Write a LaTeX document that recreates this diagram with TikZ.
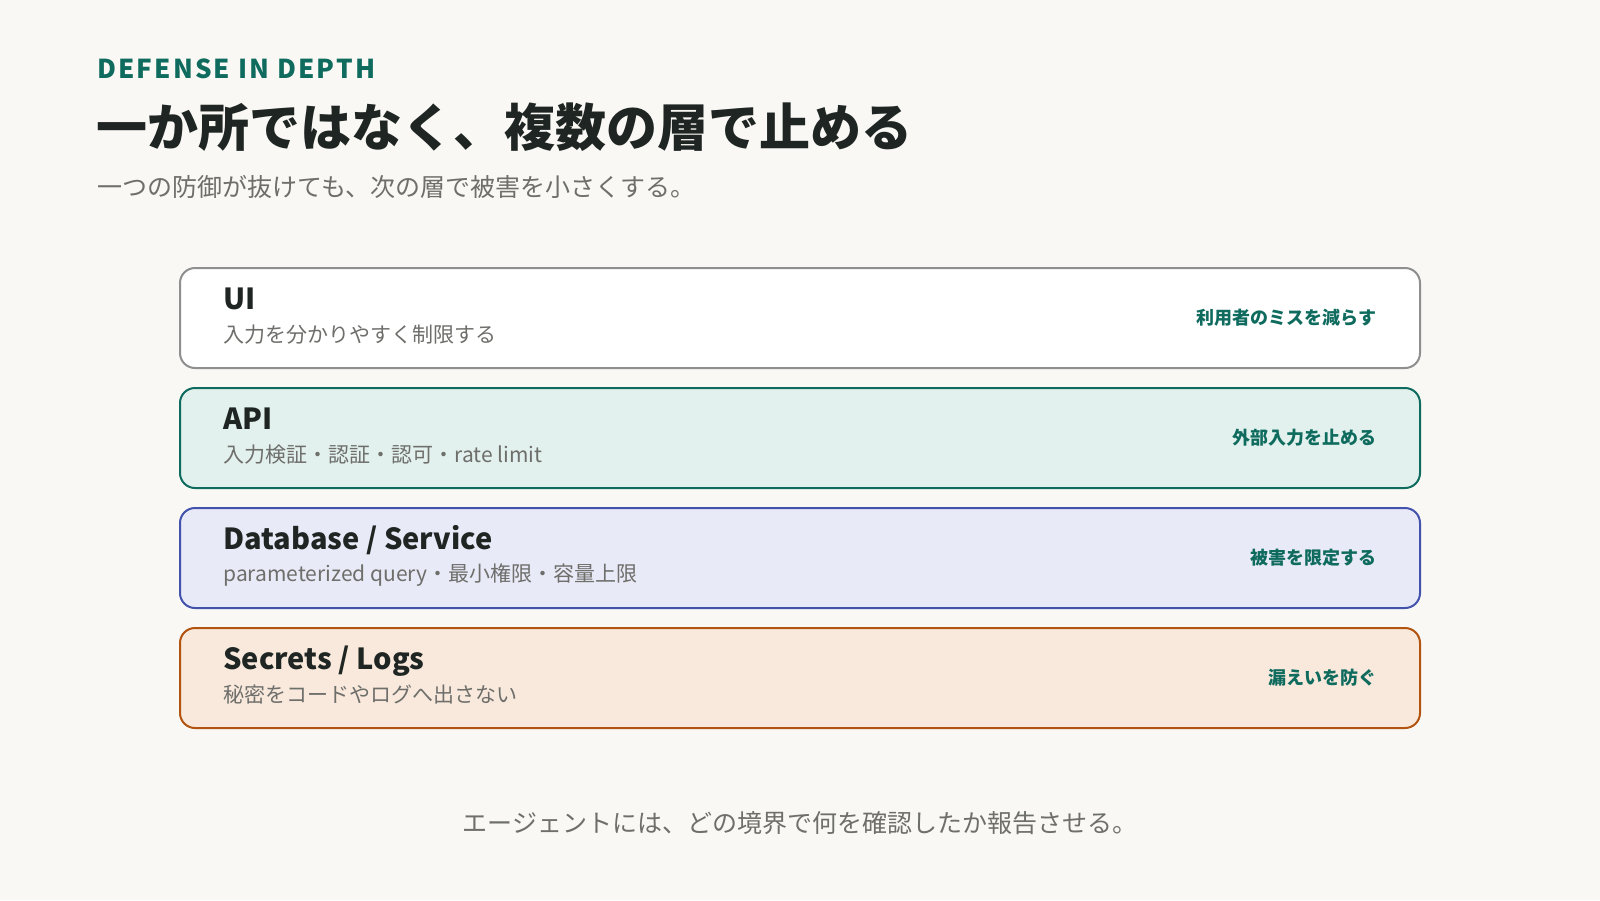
\documentclass[tikz,border=0pt]{standalone}
\usepackage{fontspec}
\setmainfont{Noto Sans CJK JP}
\usetikzlibrary{positioning}
\definecolor{paper}{HTML}{F9F8F4}
\definecolor{ink}{HTML}{1E2522}
\definecolor{muted}{HTML}{6E6E6B}
\definecolor{accent}{HTML}{0E6B5E}
\definecolor{uiline}{HTML}{8F8F8F}
\definecolor{apifill}{HTML}{E2F1ED}
\definecolor{dbfill}{HTML}{E8EAF7}
\definecolor{dbline}{HTML}{4353AC}
\definecolor{secfill}{HTML}{F8E9DC}
\definecolor{secline}{HTML}{B2540F}
\tikzset{
  layer/.style={
      rectangle,
      rounded corners=7.5pt,
      minimum width=620pt,
      minimum height=50pt,
      line width=1pt,
      inner sep=0pt,
      outer sep=0pt
  },
  layertitle/.style={anchor=base west, inner sep=0pt, text=ink, font=\fontsize{14.5}{16}\selectfont\bfseries},
  layertext/.style={anchor=west, inner sep=0pt, text=muted, font=\fontsize{10.5}{12}\selectfont},
  layernote/.style={anchor=east, inner sep=0pt, text=accent, font=\fontsize{9}{11}\selectfont\bfseries}
}
\begin{document}
\begin{tikzpicture}[x=0.5pt,y=-0.5pt,node distance=10pt]
    \fill[paper] (0,0) rectangle (1600,900);
    \useasboundingbox (0,0) rectangle (1600,900);
    % heading
    \node[anchor=base west, inner sep=0pt, text=accent, font=\fontsize{13}{15}\selectfont\bfseries\addfontfeature{LetterSpace=8}] (kicker) at (97,78) {DEFENSE IN DEPTH};
    \node[anchor=west, inner sep=0pt, text=ink, font=\fontsize{25.5}{30}\selectfont\bfseries] (title) at (96,127) {一か所ではなく、複数の層で止める};
    \node[anchor=west, inner sep=0pt, text=muted, font=\fontsize{12.5}{14}\selectfont] (subtitle) at (97,187) {一つの防御が抜けても、次の層で被害を小さくする。};
    % layers
    \node[layer, draw=uiline, fill=white] (ui) at (800,318) {};
    \node[layer, draw=accent, fill=apifill, below=of ui] (api) {};
    \node[layer, draw=dbline, fill=dbfill, below=of api] (db) {};
    \node[layer, draw=secline, fill=secfill, below=of db] (sec) {};
    \node[layertitle] (uiname) at ([xshift=21.5pt,yshift=-20.5pt]ui.north west) {UI};
    \node[layertext] (uitext) at ([xshift=21.5pt,yshift=-33.5pt]ui.north west) {入力を分かりやすく制限する};
    \node[layernote] (uinote) at ([xshift=-21.5pt]ui.east) {利用者のミスを減らす};
    \node[layertitle] (apiname) at ([xshift=21.5pt,yshift=-20.5pt]api.north west) {API};
    \node[layertext] (apitext) at ([xshift=21.5pt,yshift=-33.5pt]api.north west) {入力検証・認証・認可・rate limit};
    \node[layernote] (apinote) at ([xshift=-21.5pt]api.east) {外部入力を止める};
    \node[layertitle] (dbname) at ([xshift=21.5pt,yshift=-20.5pt]db.north west) {Database / Service};
    \node[layertext] (dbtext) at ([xshift=21.5pt,yshift=-33.5pt]db.north west) {parameterized query・最小権限・容量上限};
    \node[layernote] (dbnote) at ([xshift=-21.5pt]db.east) {被害を限定する};
    \node[layertitle] (secname) at ([xshift=21.5pt,yshift=-20.5pt]sec.north west) {Secrets / Logs};
    \node[layertext] (sectext) at ([xshift=21.5pt,yshift=-33.5pt]sec.north west) {秘密をコードやログへ出さない};
    \node[layernote] (secnote) at ([xshift=-21.5pt]sec.east) {漏えいを防ぐ};
    % footer
    \node[inner sep=0pt, text=muted, font=\fontsize{12.5}{14}\selectfont] (footer) at (800,823) {エージェントには、どの境界で何を確認したか報告させる。};
\end{tikzpicture}
\end{document}
